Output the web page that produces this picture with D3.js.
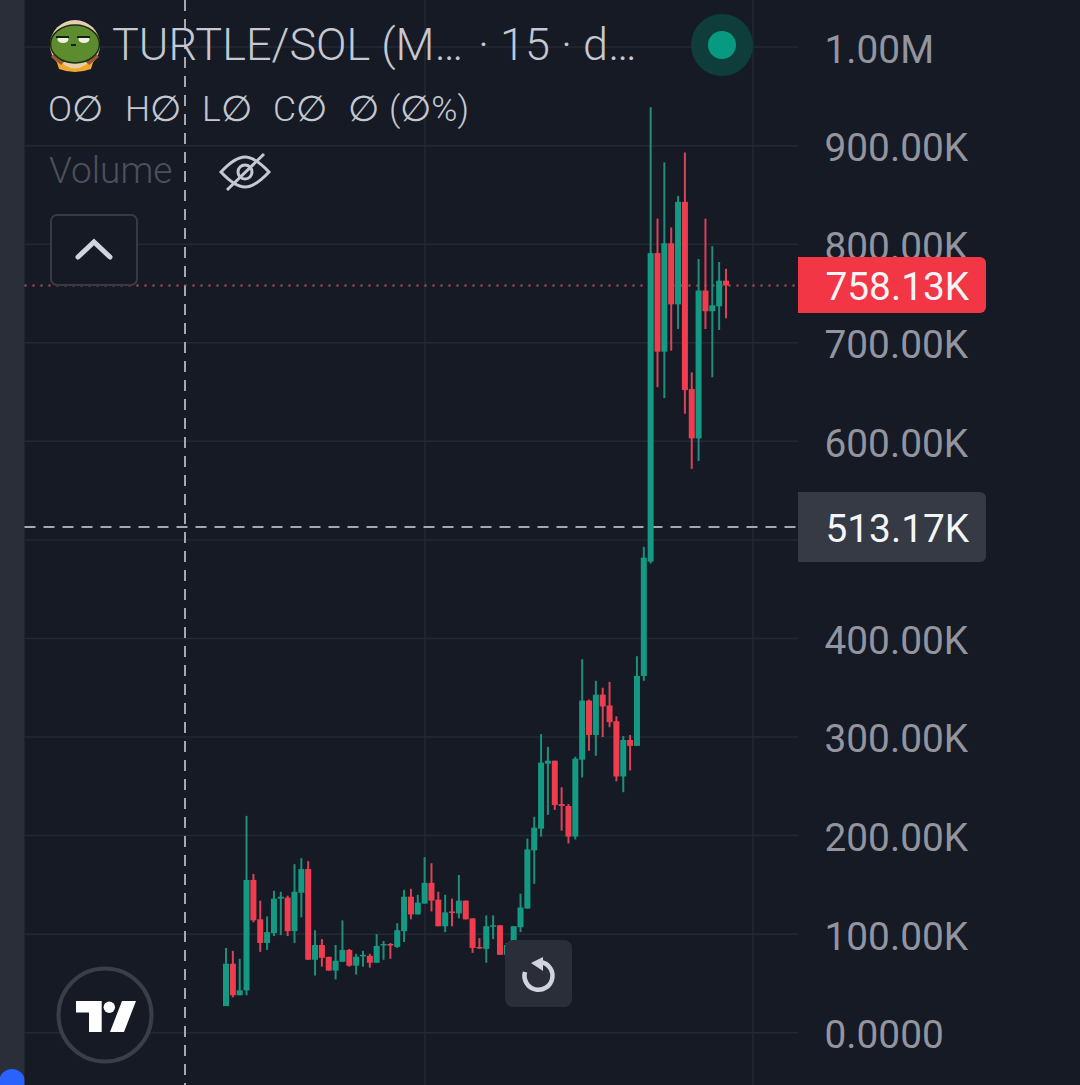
<!DOCTYPE html>
<html><head><meta charset="utf-8">
<script src="https://cdn.jsdelivr.net/npm/d3@7"></script>
<style>html,body{margin:0;padding:0;background:#161a25;overflow:hidden}svg{display:block}text{font-family:Roboto,sans-serif}</style>
</head><body><div id="chart"></div>
<script>
// values in thousands
const opens=[27,70,38,43,155,115,91,101,136,137,103,142,166,74,89,77,63,72,84,68,78,78,71,89,90,87,103,138,120,131,152,135,108,123,121,134,116,87,85,108,109,79,93,107,126,185,207,273,276,232,230,199,277,337,302,343,332,316,260,297,291,362,478,791,691,801,739,843,653,603,753,732,737,763];
const highs=[86,83,75,220,161,134,118,144,143,139,171,177,174,104,95,77,89,114,85,80,83,80,100,93,91,111,145,146,140,178,172,143,140,136,160,134,116,96,119,119,109,91,108,141,197,219,303,290,276,249,232,280,379,338,357,350,356,321,301,302,382,493,939,826,883,817,849,893,670,785,826,798,782,775];
const lows=[27,36,38,38,112,82,84,98,99,98,91,117,74,58,67,63,54,72,67,59,67,66,71,74,75,86,92,115,120,131,123,108,102,108,116,115,81,85,71,95,79,77,89,102,126,151,199,221,226,205,192,196,259,286,281,300,310,255,244,266,291,357,476,655,644,692,714,628,572,580,714,665,713,725];
const closes=[70,38,43,155,114,91,102,136,138,103,143,166,74,89,76,63,73,84,68,77,79,71,88,90,89,104,138,120,132,152,134,108,122,122,134,115,86,86,108,109,79,89,108,127,186,208,274,276,231,230,199,278,337,302,343,331,315,260,297,291,362,482,791,691,801,739,843,652,603,753,732,738,763,758.13];
const tickValues=[0,100,200,300,400,500,600,700,800,900,1000];
const tickLabels=["0.0000","100.00K","200.00K","300.00K","400.00K","","600.00K","700.00K","800.00K","900.00K","1.00M"];
const lastPrice=758.13, crossPrice=513.17, lastLabel="758.13K", crossLabel="513.17K";
const legendItems=[["O∅",48],["H∅",125],["L∅",202],["C∅",273],["∅",348],["(∅%)",389]];
const verticalGridSlots=[29,77];
const crossSlot=-6;

const W=1080,H=1085;
const svg=d3.select("#chart").append("svg").attr("width",W).attr("height",H);
const y=d3.scaleLinear().domain([0,1000]).range([1032.7,47.1]);
const x=d3.scaleLinear().domain([0,73]).range([226,726]);
const idx=d3.range(opens.length);
const GREEN="#149a82",RED="#ef3d4f",GRID="#242833";

svg.append("rect").attr("width",W).attr("height",H).attr("fill","#161a25");
svg.append("rect").attr("width",24.5).attr("height",H).attr("fill","#2a2e39");
svg.append("clipPath").attr("id","strip").append("rect").attr("width",24.5).attr("height",H);
svg.append("circle").attr("cx",12).attr("cy",1082).attr("r",13).attr("fill","#2962ff").attr("clip-path","url(#strip)");

// grid and axis
const gridG=svg.append("g");
gridG.selectAll("line.h").data(tickValues).join("line").attr("class","h")
 .attr("x1",24.5).attr("x2",798).attr("y1",d=>y(d)).attr("y2",d=>y(d)).attr("stroke",GRID).attr("stroke-width",1.5);
gridG.selectAll("line.v").data(verticalGridSlots).join("line").attr("class","v")
 .attr("x1",d=>Math.round(x(d))).attr("x2",d=>Math.round(x(d))).attr("y1",0).attr("y2",H).attr("stroke",GRID).attr("stroke-width",1.5);

const axis=d3.axisRight(y).tickValues(tickValues).tickSize(0).tickPadding(0)
 .tickFormat((d,i)=>tickLabels[i]);
const ax=svg.append("g").attr("transform","translate(824.5,1)").call(axis);
ax.select(".domain").remove();
ax.selectAll("text").attr("font-size",38.8).attr("fill","#92959f").attr("font-family","Roboto,sans-serif").attr("dy","0.36em");

// crosshair and price line
svg.append("line").attr("x1",Math.round(x(crossSlot))).attr("x2",Math.round(x(crossSlot))).attr("y1",0).attr("y2",H)
 .attr("stroke","#a5a8b1").attr("stroke-width",2).attr("stroke-dasharray","11 8");
svg.append("line").attr("x1",24.5).attr("x2",798).attr("y1",y(crossPrice)).attr("y2",y(crossPrice))
 .attr("stroke","#a5a8b1").attr("stroke-width",2).attr("stroke-dasharray","11 8");
svg.append("line").attr("x1",24.5).attr("x2",798).attr("y1",y(lastPrice)).attr("y2",y(lastPrice))
 .attr("stroke","#c9485c").attr("stroke-width",2).attr("stroke-dasharray","2 6");

// candles
const c=svg.append("g").selectAll("g").data(idx).join("g");
c.append("line").attr("x1",i=>x(i)).attr("x2",i=>x(i)).attr("y1",i=>y(highs[i])).attr("y2",i=>y(lows[i]))
 .attr("stroke",i=>closes[i]>=opens[i]?"#1f8f7c":"#d84457").attr("stroke-width",2);
c.append("rect").attr("x",i=>x(i)-3).attr("width",6)
 .attr("y",i=>y(Math.max(opens[i],closes[i])))
 .attr("height",i=>Math.max(1.5,Math.abs(y(opens[i])-y(closes[i]))))
 .attr("fill",i=>closes[i]>=opens[i]?GREEN:RED);

// price badges
function badge(v,top,h,fill,label){
 svg.append("path").attr("d",`M798 ${top}H980a6 6 0 0 1 6 6V${top+h-6}a6 6 0 0 1 -6 6H798Z`).attr("fill",fill);
 svg.append("text").attr("x",825.5).attr("y",y(v)+1).attr("dy","0.36em").attr("font-size",38.8).attr("fill","#f4f5f7").text(label);
}
badge(lastPrice,257,56,"#f23645",lastLabel);
badge(crossPrice,492,70,"#363a45",crossLabel);

// legend
const turtle=svg.append("g").attr("transform","translate(75,45)");
turtle.append("circle").attr("r",25).attr("fill","#e6cfae");
turtle.append("path").attr("d","M-20 11 Q0 36 20 11 L16 24 Q0 30 -16 24Z").attr("fill","#f0a92c");
turtle.append("path").attr("d","M-24 12 L-14 20 L-10 16 L-20 8Z M24 12 L14 20 L10 16 L20 8Z").attr("fill","#9a5a2a");
turtle.append("ellipse").attr("cy",-1).attr("rx",24.5).attr("ry",19).attr("fill","#5d8c2e").attr("stroke","#1c2a14").attr("stroke-width",1.5);
turtle.append("ellipse").attr("cx",-12).attr("cy",-5.5).attr("rx",5.5).attr("ry",3.5).attr("fill","#f0f0e0");
turtle.append("ellipse").attr("cx",9).attr("cy",-5.5).attr("rx",5.5).attr("ry",3.5).attr("fill","#f0f0e0");
turtle.append("path").attr("d","M-19 -8H-6M2 -8H15M-4 0H1").attr("stroke","#14200f").attr("stroke-width",2).attr("fill","none");

svg.append("text").attr("x",112).attr("y",60).attr("font-size",45).attr("fill","#c5c8d1").attr("font-weight",300).text("TURTLE/SOL (M…");
svg.append("text").attr("x",478).attr("y",60).attr("font-size",45).attr("fill","#c5c8d1").attr("font-weight",300).text("· 15 · d…");
svg.selectAll("text.lg").data(legendItems).join("text").attr("class","lg").attr("x",d=>d[1]).attr("y",121)
 .attr("font-size",35.5).attr("fill","#c5c8d1").attr("font-weight",300).text(d=>d[0]);
svg.append("text").attr("x",49).attr("y",183).attr("font-size",37).attr("fill","#4c505b").attr("font-weight",300).text("Volume");

// eye off icon
const eye=svg.append("g").attr("transform","translate(245,172)").attr("fill","none").attr("stroke","#c5c8d1").attr("stroke-width",3);
eye.append("path").attr("d","M-24 0 Q-10 -15 0 -15 Q10 -15 24 0 Q10 15 0 15 Q-10 15 -24 0Z");
eye.append("circle").attr("r",7);
eye.append("path").attr("d","M-18 18 L19 -18");

// collapse button
svg.append("rect").attr("x",51).attr("y",215).attr("width",86).attr("height",70).attr("rx",6).attr("fill","#161a25").attr("stroke","#363a45").attr("stroke-width",2);
svg.append("path").attr("d","M78 257 L94 242 L110 257").attr("fill","none").attr("stroke","#d1d4dc").attr("stroke-width",5).attr("stroke-linecap","round");

// status dot
svg.append("circle").attr("cx",722).attr("cy",45).attr("r",31).attr("fill","#0f3d3c");
svg.append("circle").attr("cx",722).attr("cy",45).attr("r",14).attr("fill","#089981");

// logo
svg.append("circle").attr("cx",105).attr("cy",1015).attr("r",46.5).attr("fill","#161a25").attr("stroke","#3a3e49").attr("stroke-width",4);
svg.append("path").attr("d","M76 1001H101.7V1032H89V1012.5H76Z M122 1001H136L124 1032H110Z").attr("fill","#fff");
svg.append("circle").attr("cx",109.3).attr("cy",1007.3).attr("r",5.7).attr("fill","#fff");

// reset button
svg.append("rect").attr("x",505).attr("y",940).attr("width",67).attr("height",67).attr("rx",8).attr("fill","#2a2e39");
svg.append("path").attr("d","M541 962 A14 14 0 1 1 525 972").attr("fill","none").attr("stroke","#d1d4dc").attr("stroke-width",4.5);
svg.append("path").attr("d","M543 957 L543 971 L531 963Z").attr("fill","#d1d4dc");
</script></body></html>
